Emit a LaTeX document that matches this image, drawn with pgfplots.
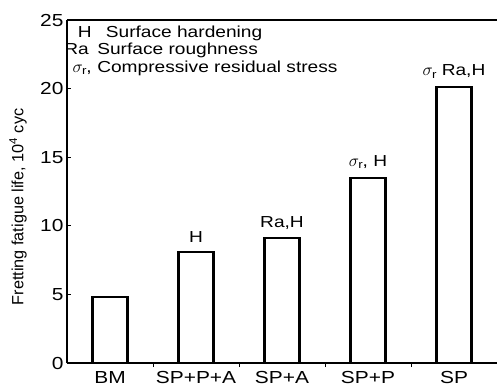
\documentclass[border=0pt]{standalone}
\usepackage{pgfplots}
\pgfplotsset{compat=1.18}
\usepackage{fontspec}
\setmainfont{Liberation Sans}[FakeStretch=1.2]
\newfontfamily\ylabfont{Liberation Sans}
\begin{document}
\begin{tikzpicture}
\path[use as bounding box] (-67bp,-25bp) rectangle (430bp,363bp);
\begin{axis}[
  scale only axis, width=430bp, height=343bp,
  at={(0,0)}, anchor=south west,
  xmin=-0.5, xmax=4.5, ymin=0, ymax=25,
  axis x line*=box, axis y line*=left,
  axis line style={line width=1.5bp},
  font=\fontsize{17.5}{20}\selectfont,
  /pgf/number format/assume math mode=true,
  ytick={0,5,...,25},
  ytick pos=left,
  xtick pos=left,
  tick align=inside,
  major tick length=4bp,
  tick style={line width=0.9bp, black},
  xtick={0.5,1.5,2.5,3.5},
  xticklabels={},
  extra x ticks={0,1,2,3,4},
  extra x tick labels={BM,SP+P+A,SP+A,SP+P,SP},
  extra x tick style={major tick length=0pt, tick label style={yshift=-5bp}},
  yticklabel style={xshift=0bp},
  ylabel={\ylabfont\fontsize{16.3}{18}\selectfont Fretting fatigue life, 10\textsuperscript{4} cyc},
  ylabel style={at={(axis description cs:-0.114,0.455)}, anchor=center},
  ybar, bar width=35bp, bar shift=0pt,
  point meta=explicit symbolic,
  nodes near coords,
  nodes near coords style={anchor=south, inner sep=0pt, yshift=8bp, font=\fontsize{16}{18}\selectfont},
]
\addplot[draw=black, fill=white, line width=2.2bp] coordinates {
  (0,4.8) [{}]
  (1,8.1) [{H}]
  (2,9.1) [{Ra,H}]
  (3,13.5) [{$\sigma_{\mathrm{r}}$, H}]
  (4,20.1) [{$\sigma_{\mathrm{r}}$ Ra,H}]
};
\begin{scope}[font=\fontsize{16}{18}\selectfont]
\node[anchor=base east, inner sep=0pt] at (axis description cs:0.058,0.950) {H};
\node[anchor=base west, inner sep=0pt] at (axis description cs:0.090,0.950) {Surface hardening};
\node[anchor=base east, inner sep=0pt] at (axis description cs:0.051,0.898) {Ra};
\node[anchor=base west, inner sep=0pt] at (axis description cs:0.070,0.898) {Surface roughness};
\node[anchor=base east, inner sep=0pt] at (axis description cs:0.058,0.848) {$\sigma_{\mathrm{r}}$,};
\node[anchor=base west, inner sep=0pt] at (axis description cs:0.070,0.848) {Compressive residual stress};
\end{scope}
\end{axis}
\end{tikzpicture}
\end{document}
